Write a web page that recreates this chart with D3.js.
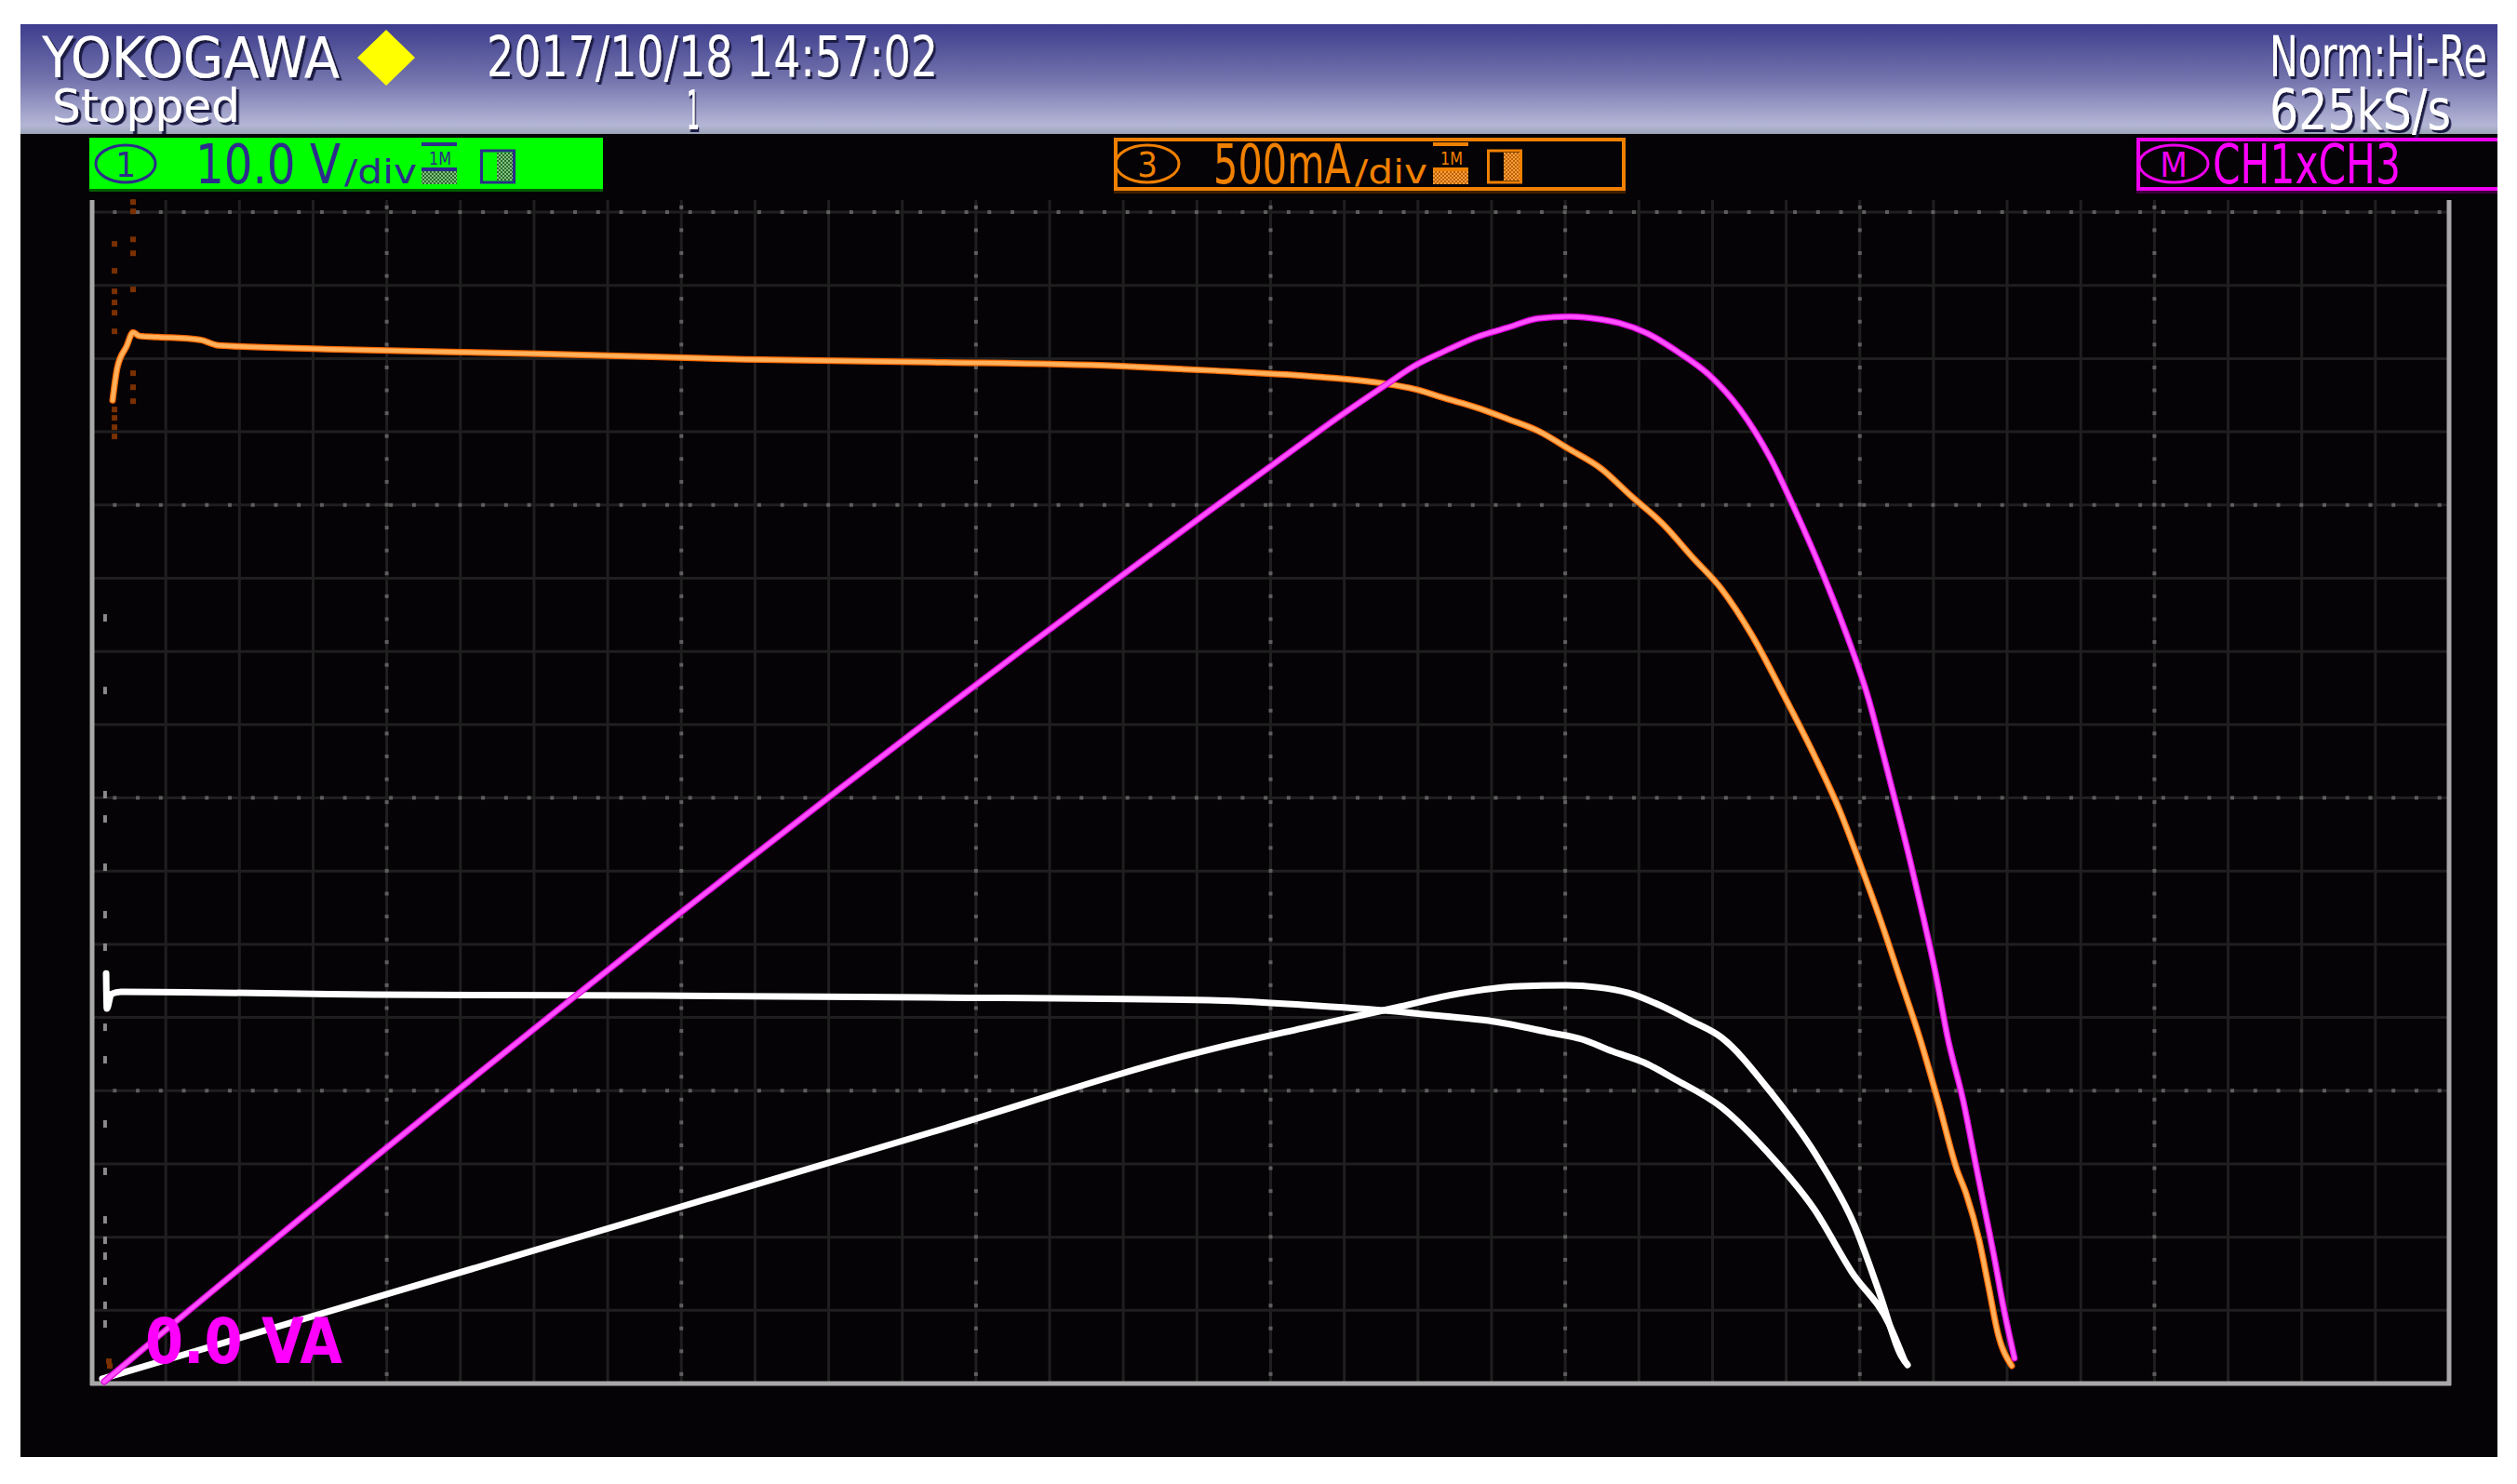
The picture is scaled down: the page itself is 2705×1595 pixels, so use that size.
<!DOCTYPE html>
<html><head><meta charset="utf-8">
<script src="https://cdn.jsdelivr.net/npm/d3@7"></script>
<style>html,body{margin:0;padding:0;background:#fff;overflow:hidden}</style>
</head><body>
<svg id="c" width="2705" height="1595"></svg>
<script>
// ---------------- DATA (screen divisions: x 0..16, y 0..8) ----------------
// CH3 current trace (orange)
const ch3X = [0.139,0.171,0.234,0.278,0.322,0.449,0.733,0.859,1.586,3.038,4.428,5.691,6.955,7.586,8.344,8.768,8.976,9.185,9.399,9.608,9.816,10.031,10.239,10.448,10.663,10.871,11.061,11.269,11.484,11.692,11.863,12.008,12.134,12.280,12.406,12.532,12.659,12.722,12.810,12.874,12.937,13.031];
const ch3Y = [6.715,6.938,7.084,7.179,7.154,7.147,7.128,7.090,7.065,7.033,6.995,6.976,6.950,6.919,6.874,6.830,6.792,6.728,6.665,6.588,6.506,6.379,6.252,6.061,5.870,5.635,5.426,5.108,4.701,4.288,3.914,3.532,3.183,2.745,2.363,1.925,1.461,1.296,0.978,0.661,0.343,0.121];
// M1 = CH1 x CH3 (magenta)
const mathX = [0.082,0.638,1.270,1.901,2.533,3.165,3.796,4.428,5.060,5.691,6.323,6.955,7.586,8.218,8.471,8.768,8.976,9.185,9.399,9.608,9.816,10.031,10.239,10.366,10.555,10.764,10.978,11.187,11.395,11.566,11.755,11.945,12.052,12.153,12.242,12.343,12.431,12.514,12.596,12.703,12.785,12.848,12.911,12.975,13.050];
const mathY = [0.013,0.482,1.009,1.530,2.045,2.555,3.059,3.557,4.050,4.536,5.017,5.492,5.961,6.424,6.607,6.811,6.950,7.052,7.147,7.211,7.274,7.287,7.268,7.243,7.173,7.046,6.887,6.652,6.315,5.953,5.515,5.019,4.701,4.320,3.971,3.564,3.183,2.802,2.363,1.925,1.506,1.188,0.870,0.521,0.172];
// White reference I-V trace
const refIVX = [0.095,0.100,0.130,0.196,1.901,3.796,5.691,7.586,8.218,8.850,9.166,9.481,9.905,10.113,10.322,10.536,10.745,11.061,11.376,11.692,11.945,12.198,12.305];
const refIVY = [2.800,2.560,2.660,2.675,2.656,2.649,2.637,2.618,2.586,2.541,2.510,2.478,2.395,2.351,2.268,2.192,2.078,1.887,1.576,1.188,0.762,0.407,0.152];
// White reference P-V trace
const refPVX = [0.069,1.901,3.796,5.691,7.586,8.218,8.850,9.273,9.690,10.006,10.220,10.429,10.637,10.852,11.061,11.376,11.736,11.964,12.134,12.280,12.324];
const refPVY = [0.032,0.580,1.147,1.714,2.281,2.427,2.567,2.662,2.713,2.719,2.706,2.668,2.586,2.478,2.363,2.014,1.506,1.080,0.616,0.191,0.127];
// sparse glitch samples at the start of the sweep
const ch3GlitchX = [0.152,0.152,0.152,0.152,0.152,0.152,0.152,0.152,0.152,0.152,0.278,0.278,0.278,0.278,0.278,0.278,0.278,0.278,0.114,0.120];
const ch3GlitchY = [7.783,7.599,7.459,7.383,7.313,7.186,6.652,6.595,6.531,6.468,8.069,8.005,7.814,7.719,7.472,6.900,6.804,6.709,0.152,0.120];
const ch1GlitchX = [0.088,0.088,0.088,0.088,0.088,0.088,0.088,0.088,0.088,0.088,0.088,0.088,0.088,0.088,0.088,0.088,0.088];
const ch1GlitchY = [5.229,4.733,4.022,3.856,3.526,3.202,2.980,2.433,2.211,1.773,1.449,1.118,0.978,0.870,0.699,0.534,0.407];

// texts
const brandText = "YOKOGAWA";
const dateText = "2017/10/18  14:57:02";
const statusText = "Stopped";
const countText = "1";
const modeText = "Norm:Hi-Re";
const rateText = "625kS/s";
const ch1Scale = ["1", "10.0 V", "/div"];
const ch3Scale = ["3", "500mA", "/div"];
const mathName = ["M", "CH1xCH3"];
const mathOffset = "0.0 VA";

// ---------------- DRAW ----------------
const svg = d3.select("#c");
const FONT = "'Liberation Sans Narrow','DejaVu Sans Condensed','Liberation Sans',Arial,sans-serif";
const defs = svg.append("defs");
defs.append("clipPath").attr("id","scr").append("rect").attr("x",22).attr("y",26).attr("width",2662).attr("height",1540);
const grad = defs.append("linearGradient").attr("id","hdr").attr("x1",0).attr("y1",0).attr("x2",0).attr("y2",1);
grad.append("stop").attr("offset",0).attr("stop-color","#3d3d8e");
grad.append("stop").attr("offset",0.5).attr("stop-color","#7373ad");
grad.append("stop").attr("offset",0.92).attr("stop-color","#b4b6d6");
grad.append("stop").attr("offset",1).attr("stop-color","#9aa4b6");
defs.append("filter").attr("id","shd").attr("x","-5%").attr("y","-20%").attr("width","110%").attr("height","140%")
  .append("feDropShadow").attr("dx",3).attr("dy",3).attr("stdDeviation",0.6).attr("flood-color","#1e1e44").attr("flood-opacity",1);
const hatch = (id,c1,c2)=>{
  const p = defs.append("pattern").attr("id",id).attr("width",4).attr("height",4).attr("patternUnits","userSpaceOnUse");
  p.append("rect").attr("width",4).attr("height",4).attr("fill",c1);
  p.append("rect").attr("width",2).attr("height",2).attr("fill",c2);
  p.append("rect").attr("x",2).attr("y",2).attr("width",2).attr("height",2).attr("fill",c2);
};
hatch("hG","#2a6a2a","#80c080");
hatch("hO","#c06000","#f5a040");

const root = svg.append("g").attr("clip-path","url(#scr)");
root.append("rect").attr("x",22).attr("y",26).attr("width",2662).attr("height",118).attr("fill","url(#hdr)");
root.append("rect").attr("x",22).attr("y",144).attr("width",2662).attr("height",1422).attr("fill","#060306");

// fit a text horizontally into a given width with a scale transform
function fitText(str, x, base, size, len, color, extra){
  const t = root.append("text").attr("x",0).attr("y",0).attr("font-family",FONT)
    .attr("font-size",size).attr("fill",color).text(str);
  if (extra) extra(t);
  const w = t.node().getComputedTextLength() || len;
  t.attr("transform",`translate(${x},${base}) scale(${len/w},1)`);
  return t;
}
const shadow = t=>t.attr("filter","url(#shd)");
fitText(brandText, 45, 83, 60, 320, "#fff", shadow);
fitText(dateText, 523, 82, 61, 485, "#fff", shadow);
fitText(statusText, 56, 131, 50, 202, "#fff", shadow);
fitText(countText, 738, 139, 58, 14, "#fff", shadow);
fitText(modeText, 2439, 82, 61, 234, "#fff", shadow);
fitText(rateText, 2439, 139, 61, 195, "#fff", shadow);
root.append("polygon").attr("points",[[415,32],[446,62],[415,92],[384,62]].map(p=>p.join(",")).join(" ")).attr("fill","#ffff00");

// channel boxes
function circ(cx, label, color, rx){
  root.append("ellipse").attr("cx",cx).attr("cy",176).attr("rx",rx).attr("ry",20).attr("fill","none").attr("stroke",color).attr("stroke-width",3);
  root.append("text").attr("x",cx).attr("y",190).attr("text-anchor","middle").attr("font-family",FONT)
    .attr("font-size",38).attr("fill",color).text(label);
}
function icons(x0, x1, color, pat){
  root.append("rect").attr("x",x0).attr("y",153).attr("width",38).attr("height",4).attr("fill",color);
  fitText("1M", x0+8, 177, 20, 24, color);
  root.append("rect").attr("x",x0).attr("y",180).attr("width",38).attr("height",4).attr("fill",color);
  root.append("rect").attr("x",x0).attr("y",184).attr("width",38).attr("height",14).attr("fill",`url(#${pat})`);
  root.append("rect").attr("x",x1+1.5).attr("y",162).attr("width",35).attr("height",34).attr("fill","none").attr("stroke",color).attr("stroke-width",3);
  root.append("rect").attr("x",x1+18).attr("y",164).attr("width",17).attr("height",30).attr("fill",`url(#${pat})`);
}
const navy = "#2c2c8c";
root.append("rect").attr("x",96).attr("y",148).attr("width",552).attr("height",57).attr("fill","#00ff00");
root.append("rect").attr("x",96).attr("y",203).attr("width",552).attr("height",3).attr("fill","#006000");
circ(135, ch1Scale[0], navy, 32);
fitText(ch1Scale[1], 210, 197, 58, 156, navy);
fitText(ch1Scale[2], 370, 197, 36, 78, navy);
icons(453, 516, navy, "hG");

const orng = "#f08000";
root.append("rect").attr("x",1199).attr("y",150).attr("width",546).attr("height",53).attr("fill","#060306").attr("stroke",orng).attr("stroke-width",4);
root.append("rect").attr("x",1197).attr("y",205).attr("width",550).attr("height",3).attr("fill","#402000");
circ(1233, ch3Scale[0], orng, 34);
fitText(ch3Scale[1], 1304, 197, 58, 148, orng);
fitText(ch3Scale[2], 1456, 197, 36, 78, orng);
icons(1540, 1598, orng, "hO");

const mag = "#ee00ee";
root.append("rect").attr("x",2298).attr("y",150).attr("width",420).attr("height",53).attr("fill","#060306").attr("stroke",mag).attr("stroke-width",4);
root.append("rect").attr("x",2296).attr("y",205).attr("width",420).attr("height",3).attr("fill","#400040");
circ(2336, mathName[0], mag, 37);
fitText(mathName[1], 2378, 197, 58, 202, "#ff00ff");

// scales & grid
const x = d3.scaleLinear().domain([0,16]).range([99,2632]);
const y = d3.scaleLinear().domain([0,8]).range([1487,228]);
const gridTop = 215;
const grid = root.append("g");
grid.selectAll("line.v").data(d3.range(0.5,16,0.5)).join("line")
  .attr("x1",d=>x(d)).attr("x2",d=>x(d)).attr("y1",gridTop).attr("y2",y(0))
  .attr("stroke","#1f1f1f").attr("stroke-width",3);
grid.selectAll("line.h").data(d3.range(0.5,8.01,0.5)).join("line")
  .attr("x1",x(0)).attr("x2",x(16)).attr("y1",d=>y(d)).attr("y2",d=>y(d))
  .attr("stroke","#1f1f1f").attr("stroke-width",3);
const dotStep = 0.15625;
const majorH = [2,4,6,8], majorV = [2,4,6,8,10,12,14];
const hDots = [];
majorH.forEach(v=>d3.range(102).forEach(k=>hDots.push([0.1535+k*dotStep, v])));
const vDots = [];
majorV.forEach(v=>d3.range(52).forEach(k=>vDots.push([v, 8.033-k*dotStep])));
grid.selectAll("rect.dot").data(hDots.concat(vDots)).join("rect")
  .attr("x",d=>x(d[0])-2).attr("y",d=>y(d[1])-2).attr("width",4).attr("height",4).attr("fill","#5e5e5e");
// frame
grid.append("line").attr("x1",x(0)).attr("x2",x(0)).attr("y1",gridTop).attr("y2",y(0)+2).attr("stroke","#a8a8a8").attr("stroke-width",5);
grid.append("line").attr("x1",x(16)).attr("x2",x(16)).attr("y1",gridTop).attr("y2",y(0)+2).attr("stroke","#a8a8a8").attr("stroke-width",5);
grid.append("line").attr("x1",x(0)-2).attr("x2",x(16)+2).attr("y1",y(0)).attr("y2",y(0)).attr("stroke","#a8a8a8").attr("stroke-width",5);

// traces
const line = d3.line().x(d=>x(d[0])).y(d=>y(d[1])).curve(d3.curveMonotoneX);
const tr = root.append("g").attr("fill","none").attr("stroke-linejoin","round").attr("stroke-linecap","round");
tr.selectAll("rect.g1").data(d3.zip(ch1GlitchX, ch1GlitchY)).join("rect")
  .attr("x",d=>x(d[0])-2).attr("y",d=>y(d[1])-4).attr("width",4).attr("height",8).attr("fill","#8a8a8a");
tr.selectAll("rect.g3").data(d3.zip(ch3GlitchX, ch3GlitchY)).join("rect")
  .attr("x",d=>x(d[0])-3).attr("y",d=>y(d[1])-3).attr("width",6).attr("height",6).attr("fill","#7a3000");
[[refIVX,refIVY],[refPVX,refPVY]].forEach(([a,b])=>{
  tr.append("path").attr("d",line(d3.zip(a,b))).attr("stroke","#ffffff").attr("stroke-width",7);
});
tr.append("path").attr("d",line(d3.zip(ch3X,ch3Y))).attr("stroke","#ff6a00").attr("stroke-width",7);
tr.append("path").attr("d",line(d3.zip(ch3X,ch3Y))).attr("stroke","#ffb05a").attr("stroke-width",4.5);
tr.append("path").attr("d",line(d3.zip(mathX,mathY))).attr("stroke","#d800d8").attr("stroke-width",7);
tr.append("path").attr("d",line(d3.zip(mathX,mathY))).attr("stroke","#ff50ff").attr("stroke-width",4.5);

// math offset label
fitText(mathOffset, 156, 1465, 68, 212, "#ff00ff", t=>t.attr("font-weight","bold"));
</script>
</body></html>
